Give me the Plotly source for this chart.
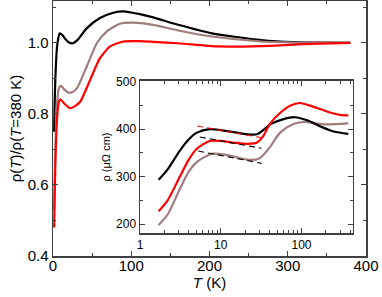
import plotly.graph_objects as go

# ---------------- main panel data: rho(T)/rho(380 K) ----------------
T_black = [1.5, 2, 3, 4, 5, 6.5, 8.6, 12, 16, 20, 25.4, 32, 43, 60, 77, 90, 111, 128, 160, 203, 266, 308, 345, 380]
R_black = [0.75, 0.82, 0.90, 0.95, 0.985, 1.01, 1.027, 1.022, 1.010, 1.002, 0.999, 1.010, 1.041, 1.070, 1.085, 1.089, 1.081, 1.072, 1.051, 1.027, 1.008, 1.002, 1.001, 1.0]

T_gray = [1.5, 2, 3, 4, 5, 6.5, 8, 10.3, 14, 20, 25, 30.5, 43, 56, 68.5, 85.5, 102, 128, 160, 203, 266, 320, 380]
R_gray = [0.53, 0.60, 0.70, 0.77, 0.82, 0.86, 0.875, 0.879, 0.870, 0.860, 0.862, 0.872, 0.933, 0.999, 1.032, 1.054, 1.057, 1.051, 1.035, 1.018, 1.004, 1.001, 1.0]

T_red = [1.5, 2, 3, 4, 5, 6.5, 8, 9.5, 14, 22, 28, 35, 47.5, 60, 73, 90, 111, 128, 160, 211, 266, 329, 380]
R_red = [0.48, 0.55, 0.66, 0.73, 0.78, 0.82, 0.837, 0.841, 0.830, 0.816, 0.822, 0.835, 0.896, 0.957, 0.990, 1.004, 1.005, 1.003, 0.999, 0.990, 0.991, 0.997, 1.0]

# ---------------- inset data: rho (micro-ohm cm) vs T (log) ----------------
Ti_black = [1.7, 2.2, 3.1, 4, 5, 7.3, 10, 15, 28, 42, 60, 83, 120, 169, 250, 380]
Ri_black = [293, 315, 354, 378, 392, 400, 398, 393, 389, 411, 421, 425, 418, 406, 395, 390]

Ti_red = [1.7, 2.2, 3.1, 4, 5, 7.3, 10, 15, 21, 27.8, 33.5, 40.6, 55, 72, 95, 125, 225, 300, 380]
Ri_red = [227, 250, 299, 335, 358, 375, 375, 371, 369, 371, 385, 411, 435, 449, 455, 450, 435, 430, 429]

Ti_gray = [1.7, 2.2, 3.1, 4, 5, 7.8, 12, 23, 30, 40.6, 54, 78, 105, 186, 380]
Ri_gray = [198, 220, 273, 310, 330, 348, 345, 335, 338, 362, 392, 410, 415, 410, 412]

# log-T fits (dashed) : endpoints
Tf_red = [5.1, 35.2]
Rf_red = [406.5, 380.6]
Tf_up = [5.5, 32]
Rf_up = [383.3, 359.5]
Tf_low = [5.26, 32]
Rf_low = [353.8, 327.8]

x_ticks_main = [0, 100, 200, 300, 400]
y_ticks_main = [0.4, 0.6, 0.8, 1.0]
x_ticks_inset = [1, 10, 100]
y_ticks_inset = [200, 300, 400, 500]

BLACK = "#000000"
GRAY = "#a07c7c"
RED = "#ff0000"
AX = "#404040"
FONT = "Liberation Sans, Arial, Helvetica, sans-serif"

fig = go.Figure()

for T, R, c in [(T_black, R_black, BLACK), (T_gray, R_gray, GRAY), (T_red, R_red, RED)]:
    fig.add_trace(go.Scatter(x=T, y=R, mode="lines", line=dict(color=c, width=2.2, shape="spline", smoothing=0.6),
                             xaxis="x", yaxis="y", showlegend=False, hoverinfo="skip"))

for T, R, c in [(Ti_gray, Ri_gray, GRAY), (Ti_black, Ri_black, BLACK), (Ti_red, Ri_red, RED)]:
    fig.add_trace(go.Scatter(x=T, y=R, mode="lines", line=dict(color=c, width=2.2, shape="spline", smoothing=0.8),
                             xaxis="x2", yaxis="y2", showlegend=False, hoverinfo="skip"))

for T, R, c in [(Tf_red, Rf_red, RED), (Tf_up, Rf_up, BLACK), (Tf_low, Rf_low, BLACK)]:
    fig.add_trace(go.Scatter(x=T, y=R, mode="lines", line=dict(color=c, width=1.1, dash="6px,4px"),
                             xaxis="x2", yaxis="y2", showlegend=False, hoverinfo="skip"))

common = dict(showline=True, linecolor=AX, linewidth=1.5, mirror="ticks", ticks="inside",
              tickcolor=AX, showgrid=False, zeroline=False, automargin=False)

fig.update_layout(
    width=382, height=297,
    margin=dict(l=53, r=16, t=1, b=41),
    paper_bgcolor="white", plot_bgcolor="white",
    font=dict(family=FONT, color="black"),
    xaxis=dict(domain=[0, 1], range=[0, 400], tickvals=x_ticks_main, ticklen=5, tickwidth=1,
               tickfont=dict(size=15), anchor="y", ticklabelstandoff=-5,
               minor=dict(ticks="inside", dtick=50, tick0=0, ticklen=3, tickcolor=AX),
               title=dict(text="<i>T</i> (K)", font=dict(size=15), standoff=0), **common),
    yaxis=dict(domain=[0, 1], range=[0.4, 1.118], tickvals=y_ticks_main, tickformat=".1f", ticklen=5, tickwidth=1,
               tickfont=dict(size=15), anchor="x",
               minor=dict(ticks="inside", dtick=0.1, tick0=0.4, ticklen=3, tickcolor=AX),
               title=dict(text="ρ(<i>T</i>)/ρ(<i>T</i>=380 K)", font=dict(size=15), standoff=2), **common),
    xaxis2=dict(domain=[0.278, 0.958], type="log", range=[0, 2.636], tickvals=x_ticks_inset,
                ticktext=["1", "10", "100"], ticklen=5, tickwidth=1, tickfont=dict(size=12), anchor="y2",
                minor=dict(ticks="inside", tickvals=[2, 3, 4, 5, 6, 7, 8, 9, 20, 30, 40, 50, 60, 70, 80, 90,
                                                      200, 300, 400],
                           ticklen=3, tickcolor=AX),
                **common),
    yaxis2=dict(domain=[0.089, 0.6875], range=[180.4, 502], tickvals=y_ticks_inset, ticklen=5, tickwidth=1,
                tickfont=dict(size=12), anchor="x2",
                minor=dict(ticks="inside", dtick=50, tick0=200, ticklen=3, tickcolor=AX),
                title=dict(text="ρ (μΩ cm)", font=dict(size=11), standoff=3), **common),
)

fig.write_html("out.html", config={"displayModeBar": False, "staticPlot": True},
               post_script="document.body.style.margin='0';document.body.style.overflow='hidden';")
